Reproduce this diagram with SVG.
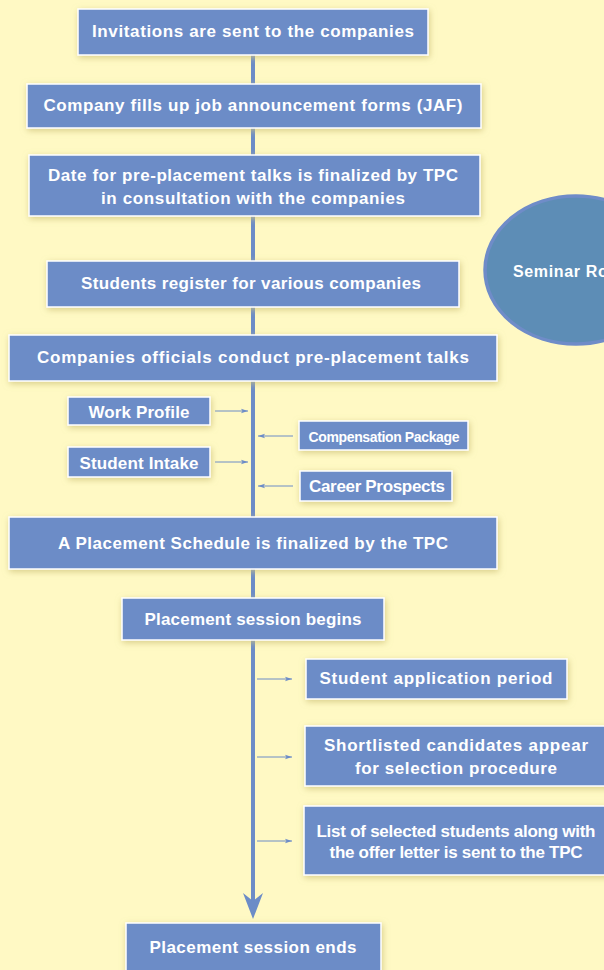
<svg xmlns="http://www.w3.org/2000/svg" width="604" height="970" viewBox="0 0 604 970">
<defs>
<filter id="sh" x="-10%" y="-30%" width="120%" height="160%">
<feGaussianBlur in="SourceAlpha" stdDeviation="3"/>
<feOffset dx="1" dy="2" result="b"/>
<feFlood flood-color="#CFC37A" flood-opacity="0.8"/>
<feComposite in2="b" operator="in"/>
<feMerge><feMergeNode/><feMergeNode in="SourceGraphic"/></feMerge>
</filter>
<marker id="ah" markerWidth="8" markerHeight="6" refX="7" refY="3" orient="auto" markerUnits="userSpaceOnUse">
<path d="M0,0.8 L7,3 L0,5.2 L1.5,3 Z" fill="#6C8CC7"/>
</marker>
<style>
.bg{fill:#FFF9C4}
.box{fill:#6C8CC7;stroke:#FFFFFF;stroke-width:1.5;filter:url(#sh)}
.t{fill:#FFFFFF;font-family:"Liberation Sans",Arial,sans-serif;font-weight:bold;font-size:17px;text-anchor:middle;dominant-baseline:central}
.s{font-size:14px}
.arr{stroke:#6C8CC7;stroke-width:1;fill:none;marker-end:url(#ah)}
</style>
</defs>
<rect class="bg" x="0" y="0" width="604" height="970"/>
<g id="seminar">
<ellipse cx="576" cy="270" rx="91" ry="74" fill="#5D8DB6" stroke="#6F8CC8" stroke-width="3.5"/>
<text class="t" x="513" y="271" style="text-anchor:start;font-size:16px" textLength="120">Seminar Room</text>
</g>
<g id="connectors">
<line x1="253" y1="55" x2="253" y2="905" stroke="#6C8CC7" stroke-width="4"/>
<path d="M253,919 L243,893 L253,901 L263,893 Z" fill="#6C8CC7"/>
<line class="arr" x1="215" y1="411" x2="248" y2="411"/>
<line class="arr" x1="293" y1="436" x2="258" y2="436"/>
<line class="arr" x1="215" y1="462" x2="248" y2="462"/>
<line class="arr" x1="293" y1="486" x2="258" y2="486"/>
<line class="arr" x1="257" y1="679" x2="292" y2="679"/>
<line class="arr" x1="257" y1="757" x2="292" y2="757"/>
<line class="arr" x1="257" y1="841" x2="292" y2="841"/>
</g>
<g id="n1"><rect class="box" x="78" y="9" width="350" height="46"/><text class="t" x="253" y="31" textLength="322">Invitations are sent to the companies</text></g>
<g id="n2"><rect class="box" x="27" y="84" width="454" height="44"/><text class="t" x="253" y="105" textLength="419">Company fills up job announcement forms (JAF)</text></g>
<g id="n3"><rect class="box" x="29" y="155" width="451" height="61"/><text class="t" x="253" y="175" textLength="410">Date for pre-placement talks is finalized by TPC</text><text class="t" x="253" y="198" textLength="304">in consultation with the companies</text></g>
<g id="n4"><rect class="box" x="47" y="261" width="412" height="46"/><text class="t" x="251" y="283" textLength="340">Students register for various companies</text></g>
<g id="n5"><rect class="box" x="9" y="335" width="488" height="46"/><text class="t" x="253" y="357" textLength="432">Companies officials conduct pre-placement talks</text></g>
<g id="n6"><rect class="box" x="68" y="397" width="142" height="28"/><text class="t" x="139" y="412" textLength="101">Work Profile</text></g>
<g id="n7"><rect class="box" x="299" y="421" width="169" height="29"/><text class="t s" x="384" y="437" textLength="151">Compensation Package</text></g>
<g id="n8"><rect class="box" x="68" y="447" width="142" height="30"/><text class="t" x="139" y="463" textLength="119">Student Intake</text></g>
<g id="n9"><rect class="box" x="300" y="471" width="152" height="30"/><text class="t" x="377" y="486" textLength="136">Career Prospects</text></g>
<g id="n10"><rect class="box" x="9" y="517" width="488" height="52"/><text class="t" x="253" y="543" textLength="390">A Placement Schedule is finalized by the TPC</text></g>
<g id="n11"><rect class="box" x="122" y="598" width="262" height="42"/><text class="t" x="253" y="619" textLength="217">Placement session begins</text></g>
<g id="n12"><rect class="box" x="306" y="659" width="261" height="40"/><text class="t" x="436" y="678" textLength="233">Student application period</text></g>
<g id="n13"><rect class="box" x="305" y="726" width="310" height="60"/><text class="t" x="456" y="745" textLength="264">Shortlisted candidates appear</text><text class="t" x="456" y="768" textLength="202">for selection procedure</text></g>
<g id="n14"><rect class="box" x="304" y="806" width="310" height="69"/><text class="t" x="456" y="831" textLength="279">List of selected students along with</text><text class="t" x="456" y="852" textLength="253">the offer letter is sent to the TPC</text></g>
<g id="n15"><rect class="box" x="126" y="923" width="255" height="52"/><text class="t" x="253" y="947" textLength="207">Placement session ends</text></g>
</svg>
